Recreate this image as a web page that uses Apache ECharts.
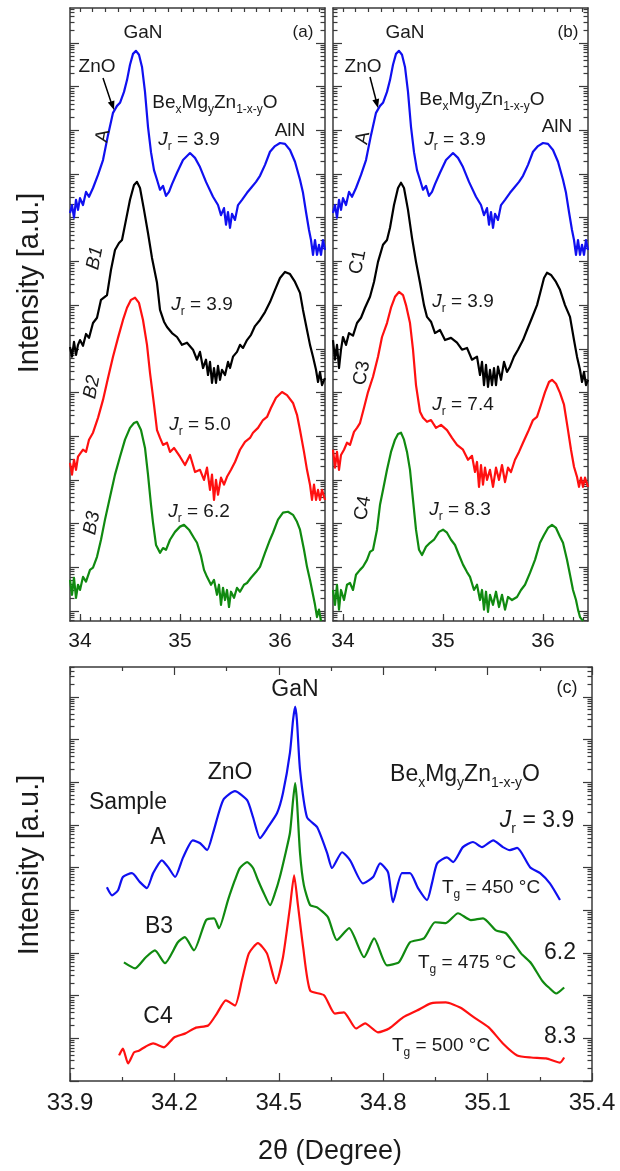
<!DOCTYPE html>
<html><head><meta charset="utf-8">
<script src="https://cdn.jsdelivr.net/npm/echarts@6/dist/echarts.min.js"></script>
<style>html,body{margin:0;padding:0;background:#fff}#c{width:620px;height:1171px}</style>
</head><body><div id="c"></div>
<script>
// ---------- DATA: x = 2theta (deg), y = log10 intensity (decades, offset traces) ----------
// Panels (a) and (b): sample A (same scan in both)
const sampleA = [[33.90,9.11],[33.92,9.29],[33.94,9.00],[33.96,9.41],[33.98,9.18],[34.00,9.45],[34.03,9.29],[34.06,9.59],[34.09,9.48],[34.13,9.68],[34.18,9.98],[34.23,10.32],[34.28,10.89],[34.33,11.40],[34.37,11.56],[34.40,11.63],[34.44,11.88],[34.47,12.15],[34.50,12.50],[34.53,12.75],[34.56,12.82],[34.59,12.73],[34.62,12.45],[34.65,11.88],[34.68,11.08],[34.71,10.50],[34.74,10.09],[34.77,9.87],[34.80,9.64],[34.83,9.73],[34.86,9.50],[34.89,9.59],[34.92,9.77],[34.97,10.03],[35.03,10.32],[35.10,10.48],[35.15,10.37],[35.20,10.16],[35.26,9.82],[35.33,9.48],[35.38,9.29],[35.41,9.06],[35.44,9.22],[35.46,8.84],[35.48,9.13],[35.50,8.77],[35.52,9.09],[35.55,8.95],[35.58,9.29],[35.62,9.41],[35.67,9.57],[35.72,9.71],[35.76,9.82],[35.80,9.96],[35.85,10.21],[35.90,10.51],[35.95,10.64],[36.00,10.71],[36.05,10.69],[36.10,10.55],[36.15,10.28],[36.20,9.87],[36.23,9.57],[36.26,9.13],[36.29,8.72],[36.31,8.49],[36.33,8.15],[36.35,8.49],[36.37,8.15],[36.39,8.38],[36.41,8.15],[36.43,8.49],[36.45,8.26]];
const sampleB1 = [[33.90,6.04],[33.92,5.82],[33.94,6.16],[33.96,5.86],[33.98,6.09],[34.00,6.20],[34.03,6.07],[34.06,6.34],[34.09,6.25],[34.13,6.59],[34.17,6.71],[34.21,7.12],[34.27,7.23],[34.31,7.81],[34.35,8.26],[34.39,8.42],[34.42,8.49],[34.46,8.95],[34.50,9.41],[34.54,9.75],[34.57,9.82],[34.60,9.68],[34.64,9.18],[34.68,8.65],[34.72,8.08],[34.77,7.51],[34.80,6.89],[34.84,6.62],[34.87,6.50],[34.92,6.36],[34.97,6.27],[35.02,6.09],[35.07,6.14],[35.13,5.98],[35.17,5.75],[35.20,5.93],[35.23,5.56],[35.26,5.75],[35.28,5.40],[35.30,5.70],[35.32,5.22],[35.34,5.56],[35.36,5.22],[35.38,5.61],[35.40,5.29],[35.42,5.52],[35.45,5.40],[35.48,5.70],[35.50,5.56],[35.53,5.82],[35.57,5.93],[35.60,6.09],[35.63,6.02],[35.67,6.20],[35.71,6.32],[35.75,6.52],[35.80,6.66],[35.85,6.84],[35.90,7.07],[35.95,7.35],[36.00,7.62],[36.05,7.76],[36.10,7.71],[36.15,7.53],[36.20,7.28],[36.23,6.89],[36.27,6.43],[36.30,6.09],[36.33,5.82],[36.36,5.52],[36.38,5.24],[36.40,5.47],[36.42,5.17],[36.45,5.33]];
const sampleB2 = [[33.90,3.39],[33.92,3.12],[33.94,3.46],[33.96,3.23],[33.98,3.53],[34.00,3.53],[34.03,3.69],[34.06,3.64],[34.09,3.92],[34.13,4.08],[34.18,4.42],[34.23,4.83],[34.28,5.33],[34.33,5.82],[34.38,6.25],[34.43,6.66],[34.47,6.94],[34.51,7.12],[34.55,7.17],[34.59,7.05],[34.63,6.66],[34.67,6.09],[34.70,5.45],[34.74,4.72],[34.77,4.14],[34.80,3.96],[34.83,3.80],[34.87,3.85],[34.90,3.64],[34.94,3.73],[35.00,3.53],[35.05,3.34],[35.10,3.57],[35.15,3.18],[35.20,3.23],[35.24,3.00],[35.27,3.28],[35.30,2.77],[35.32,3.12],[35.34,2.54],[35.36,3.00],[35.38,2.66],[35.41,3.05],[35.44,2.89],[35.47,3.07],[35.51,3.23],[35.55,3.41],[35.60,3.69],[35.65,3.87],[35.70,3.96],[35.73,4.08],[35.78,4.19],[35.83,4.37],[35.87,4.44],[35.91,4.65],[35.96,4.88],[36.02,5.01],[36.07,4.94],[36.13,4.76],[36.17,4.49],[36.20,4.14],[36.24,3.64],[36.27,3.23],[36.30,2.89],[36.32,2.54],[36.34,2.89],[36.36,2.54],[36.38,2.77],[36.40,2.54],[36.42,2.77],[36.45,2.54]];
const sampleB3 = [[33.90,0.71],[33.92,0.37],[33.94,0.76],[33.96,0.30],[33.98,0.60],[34.00,0.48],[34.03,0.78],[34.06,0.67],[34.10,0.94],[34.13,0.99],[34.17,1.24],[34.21,1.63],[34.25,2.09],[34.30,2.61],[34.35,3.12],[34.40,3.53],[34.45,3.92],[34.50,4.19],[34.54,4.30],[34.57,4.33],[34.61,4.14],[34.65,3.73],[34.68,3.12],[34.71,2.43],[34.73,2.02],[34.76,1.51],[34.80,1.33],[34.83,1.44],[34.86,1.40],[34.90,1.63],[34.95,1.81],[35.00,1.93],[35.04,1.97],[35.09,1.86],[35.14,1.67],[35.17,1.56],[35.21,1.26],[35.24,0.94],[35.27,0.78],[35.31,0.60],[35.34,0.71],[35.37,0.37],[35.39,0.60],[35.41,0.14],[35.43,0.53],[35.45,0.25],[35.47,0.48],[35.49,0.09],[35.51,0.44],[35.54,0.30],[35.57,0.53],[35.60,0.44],[35.64,0.60],[35.67,0.64],[35.71,0.76],[35.76,0.89],[35.80,1.01],[35.85,1.33],[35.90,1.63],[35.93,1.79],[35.98,2.09],[36.03,2.25],[36.08,2.27],[36.13,2.20],[36.17,2.04],[36.20,1.86],[36.24,1.40],[36.27,1.01],[36.30,0.71],[36.33,0.37],[36.35,0.14],[36.37,-0.14],[36.39,0.03],[36.41,-0.23]];
const sampleC1 = [[33.90,6.20],[33.92,5.75],[33.94,6.09],[33.96,5.56],[33.98,5.98],[34.00,6.27],[34.03,6.09],[34.06,6.36],[34.10,6.30],[34.14,6.59],[34.18,6.71],[34.22,6.94],[34.27,7.19],[34.31,7.53],[34.35,7.99],[34.40,8.38],[34.44,8.49],[34.47,8.77],[34.51,9.29],[34.55,9.68],[34.58,9.80],[34.61,9.68],[34.65,9.18],[34.69,8.54],[34.73,7.99],[34.77,7.51],[34.81,7.00],[34.84,6.73],[34.88,6.62],[34.92,6.36],[34.97,6.43],[35.02,6.20],[35.08,6.25],[35.14,6.14],[35.19,5.98],[35.24,6.02],[35.29,5.75],[35.34,5.82],[35.37,5.40],[35.39,5.70],[35.41,5.17],[35.43,5.63],[35.45,5.13],[35.47,5.52],[35.49,5.17],[35.51,5.56],[35.53,5.17],[35.55,5.59],[35.58,5.29],[35.61,5.70],[35.64,5.47],[35.67,5.59],[35.71,5.82],[35.75,5.98],[35.80,6.20],[35.84,6.43],[35.89,6.71],[35.94,7.00],[35.98,7.35],[36.01,7.62],[36.04,7.74],[36.08,7.69],[36.13,7.53],[36.17,7.35],[36.22,7.00],[36.27,6.73],[36.31,6.20],[36.34,5.82],[36.37,5.52],[36.39,5.24],[36.41,5.47],[36.43,5.17],[36.45,5.29]];
const sampleC3 = [[33.90,3.69],[33.92,3.28],[33.94,3.64],[33.96,3.23],[33.98,3.57],[34.01,3.69],[34.04,3.85],[34.07,3.80],[34.11,4.10],[34.14,4.19],[34.17,4.30],[34.21,4.65],[34.25,5.01],[34.30,5.36],[34.35,5.82],[34.39,6.27],[34.44,6.59],[34.48,6.94],[34.52,7.19],[34.56,7.30],[34.60,7.23],[34.63,7.00],[34.67,6.59],[34.70,5.98],[34.73,5.17],[34.77,4.56],[34.80,4.42],[34.84,4.33],[34.88,4.37],[34.93,4.19],[34.98,4.26],[35.04,4.14],[35.09,3.96],[35.14,3.80],[35.20,3.69],[35.25,3.46],[35.29,3.55],[35.32,3.18],[35.34,3.41],[35.36,2.84],[35.38,3.34],[35.40,2.89],[35.42,3.28],[35.44,3.00],[35.47,3.23],[35.50,2.84],[35.53,3.28],[35.56,3.00],[35.59,3.34],[35.62,2.95],[35.65,3.28],[35.68,3.18],[35.72,3.46],[35.76,3.64],[35.80,3.85],[35.85,4.10],[35.90,4.37],[35.94,4.44],[35.98,4.72],[36.02,5.01],[36.06,5.24],[36.09,5.29],[36.13,5.20],[36.17,4.99],[36.21,4.72],[36.25,4.14],[36.28,3.69],[36.31,3.30],[36.34,3.07],[36.36,2.84],[36.38,3.05],[36.40,2.84],[36.42,3.05],[36.45,2.84]];
const sampleC4 = [[33.90,0.48],[33.92,0.14],[33.94,0.60],[33.96,0.03],[33.98,0.48],[34.01,0.25],[34.04,0.60],[34.07,0.64],[34.10,0.48],[34.13,0.83],[34.17,0.94],[34.20,1.01],[34.24,1.17],[34.27,1.35],[34.30,1.40],[34.34,1.86],[34.37,2.43],[34.40,2.77],[34.44,3.23],[34.48,3.64],[34.52,3.92],[34.55,4.05],[34.58,4.08],[34.61,3.92],[34.64,3.64],[34.67,3.23],[34.70,2.54],[34.73,1.86],[34.76,1.40],[34.79,1.28],[34.83,1.47],[34.87,1.56],[34.91,1.63],[34.96,1.81],[35.00,1.86],[35.04,1.79],[35.08,1.63],[35.12,1.51],[35.16,1.28],[35.20,1.06],[35.24,0.89],[35.27,0.78],[35.31,0.48],[35.34,0.60],[35.37,0.25],[35.39,0.48],[35.41,0.03],[35.43,0.44],[35.45,-0.02],[35.47,0.37],[35.50,0.14],[35.53,0.44],[35.56,0.09],[35.59,0.37],[35.62,0.03],[35.65,0.32],[35.69,0.25],[35.74,0.32],[35.78,0.48],[35.82,0.60],[35.87,0.87],[35.92,1.17],[35.97,1.56],[36.01,1.74],[36.05,1.90],[36.09,1.97],[36.13,1.90],[36.17,1.70],[36.20,1.56],[36.24,1.17],[36.27,0.83],[36.30,0.48],[36.33,0.25],[36.35,0.03],[36.37,-0.14],[36.40,-0.23]];
// Panel (c): high-resolution scans
const cA = [[34.006,4.54],[34.021,4.35],[34.038,4.47],[34.052,4.78],[34.078,4.87],[34.101,4.66],[34.121,4.52],[34.139,4.87],[34.164,5.17],[34.182,5.01],[34.202,4.78],[34.225,5.24],[34.253,5.64],[34.274,5.57],[34.294,5.41],[34.311,5.81],[34.340,6.58],[34.374,6.79],[34.409,6.58],[34.426,6.18],[34.446,5.69],[34.469,5.95],[34.495,6.28],[34.512,6.75],[34.532,7.69],[34.541,8.46],[34.547,8.77],[34.552,8.46],[34.561,7.29],[34.581,6.18],[34.610,5.95],[34.639,5.34],[34.653,4.99],[34.682,5.36],[34.705,5.17],[34.742,4.63],[34.771,4.78],[34.791,5.10],[34.814,4.89],[34.828,4.19],[34.854,4.87],[34.877,4.87],[34.900,4.52],[34.926,4.24],[34.940,4.63],[34.955,5.10],[34.983,5.24],[35.001,5.13],[35.029,5.48],[35.058,5.60],[35.084,5.48],[35.116,5.64],[35.144,5.48],[35.164,5.41],[35.185,5.46],[35.222,5.01],[35.251,4.87],[35.279,4.63],[35.308,4.24]];
const cB3 = [[34.055,2.78],[34.087,2.64],[34.118,2.90],[34.144,3.06],[34.173,2.76],[34.210,3.25],[34.230,3.37],[34.256,3.06],[34.291,3.77],[34.314,3.81],[34.328,3.58],[34.354,4.24],[34.374,4.71],[34.388,4.99],[34.409,5.13],[34.426,4.99],[34.440,4.71],[34.457,4.40],[34.475,4.12],[34.489,4.40],[34.503,4.78],[34.518,5.29],[34.532,5.81],[34.541,6.58],[34.547,6.98],[34.552,6.58],[34.561,5.34],[34.572,4.59],[34.590,4.12],[34.610,4.07],[34.641,3.84],[34.667,3.30],[34.702,3.58],[34.745,2.90],[34.774,3.34],[34.811,2.71],[34.845,2.78],[34.877,3.25],[34.917,3.34],[34.949,3.72],[34.980,3.70],[35.015,3.93],[35.052,3.77],[35.087,3.81],[35.124,3.53],[35.153,3.46],[35.196,2.99],[35.225,2.76],[35.256,2.36],[35.276,2.19],[35.297,2.05],[35.320,2.19]];
const cC4 = [[34.041,0.60],[34.052,0.76],[34.067,0.41],[34.084,0.67],[34.098,0.71],[34.118,0.81],[34.139,0.88],[34.170,0.79],[34.199,1.02],[34.230,1.11],[34.262,1.25],[34.297,1.30],[34.322,1.58],[34.348,1.89],[34.374,1.77],[34.394,2.36],[34.414,2.99],[34.440,3.23],[34.466,2.99],[34.492,2.29],[34.512,2.90],[34.532,4.07],[34.544,4.82],[34.555,4.12],[34.570,3.13],[34.590,2.12],[34.630,2.01],[34.661,1.58],[34.687,1.61],[34.722,1.23],[34.748,1.35],[34.785,1.14],[34.817,1.23],[34.857,1.49],[34.897,1.65],[34.937,1.82],[34.980,1.84],[35.021,1.72],[35.061,1.49],[35.104,1.25],[35.144,0.88],[35.185,0.60],[35.225,0.55],[35.268,0.53],[35.308,0.43],[35.320,0.55]];

// ---------- AXES ----------
const abXRange = [33.9, 36.45];
const abXLabels = [34, 35, 36];
const abXMinor = []; for (let v = 34.0; v <= 36.41; v += 0.1) abXMinor.push(+v.toFixed(2));
const abXTop = []; for (let k = 0; k < 20; k++) abXTop.push(+(34.0 + 0.126 * k).toFixed(3));
const abYRange = [-0.23, 13.8];
const cXRange = [33.9, 35.4];
const cYRange = [0, 9.7];

const FONT = "Arial, 'Liberation Sans', Helvetica, sans-serif";
const TXT = '#1a1a1a';
const LINE = '#3a3a3a';

function decades(lo, hi) { const r = []; for (let k = Math.ceil(lo); k <= Math.floor(hi); k++) r.push(k); return r; }
function logMinor(lo, hi) {
  const r = [];
  for (let k = Math.floor(lo) - 1; k <= Math.ceil(hi); k++)
    for (let m = 2; m <= 9; m++) { const v = k + Math.log10(m); if (v > lo && v < hi) r.push(+v.toFixed(4)); }
  return r;
}
const lineSty = { color: LINE, width: 1.5 };
const tickSty = { color: LINE, width: 1.2 };

function ax(gridIndex, position, range, o) {
  return Object.assign({
    type: 'value', gridIndex, position, min: range[0], max: range[1],
    splitLine: { show: false }, axisLine: { show: false, onZero: false },
    axisLabel: { show: false }, axisTick: { show: false }, minorTick: { show: false }
  }, o);
}
function frameLine() { return { show: true, onZero: false, lineStyle: lineSty }; }

const xAxes = [];
const yAxes = [];
function abAxes(g) {
  xAxes.push(ax(g, 'bottom', abXRange, {
    axisLine: frameLine(),
    axisTick: { show: true, inside: true, length: 7, customValues: abXLabels, lineStyle: tickSty },
    axisLabel: { show: true, customValues: abXLabels, margin: 10, fontSize: 21, color: TXT, fontFamily: FONT }
  }));
  xAxes.push(ax(g, 'bottom', abXRange, { axisTick: { show: true, inside: true, length: 4, customValues: abXMinor, lineStyle: tickSty } }));
  xAxes.push(ax(g, 'top', abXRange, { axisLine: frameLine(), axisTick: { show: true, inside: true, length: 4, customValues: abXTop, lineStyle: tickSty } }));
  ['left', 'right'].forEach(p => {
    yAxes.push(ax(g, p, abYRange, { axisLine: frameLine(), axisTick: { show: true, inside: true, length: 9, customValues: decades(abYRange[0], abYRange[1]), lineStyle: tickSty } }));
    yAxes.push(ax(g, p, abYRange, { axisTick: { show: true, inside: true, length: 4.5, customValues: logMinor(abYRange[0], abYRange[1]), lineStyle: tickSty } }));
  });
}
abAxes(0); abAxes(1);
// panel c
xAxes.push(ax(2, 'bottom', cXRange, {
  interval: 0.3, axisLine: frameLine(),
  axisTick: { show: true, inside: true, length: 8, lineStyle: tickSty },
  minorTick: { show: true, splitNumber: 2, length: 4, lineStyle: tickSty },
  axisLabel: { show: true, margin: 10, fontSize: 24, color: TXT, fontFamily: FONT, formatter: v => v.toFixed(1), showMinLabel: true, showMaxLabel: true }
}));
xAxes.push(ax(2, 'top', cXRange, {
  interval: 0.3, axisLine: frameLine(),
  axisTick: { show: true, inside: true, length: 8, lineStyle: tickSty },
  minorTick: { show: true, splitNumber: 2, length: 4, lineStyle: tickSty }
}));
['left', 'right'].forEach(p => {
  yAxes.push(ax(2, p, cYRange, { axisLine: frameLine(), axisTick: { show: true, inside: true, length: 9, customValues: decades(cYRange[0], cYRange[1]), lineStyle: tickSty } }));
  yAxes.push(ax(2, p, cYRange, { axisTick: { show: true, inside: true, length: 4.5, customValues: logMinor(cYRange[0], cYRange[1]), lineStyle: tickSty } }));
});

// ---------- SERIES ----------
const BLUE = '#1010f0', BLACK = '#000000', RED = '#ff1010', GREEN = '#108a10';
function ln(data, color, xi, yi, smooth) {
  return { type: 'line', data, xAxisIndex: xi, yAxisIndex: yi, showSymbol: false, symbol: 'none',
    smooth: smooth || false,
    lineStyle: { color, width: 2.2, join: 'round' }, itemStyle: { color }, silent: true, z: 3 };
}
const series = [
  ln(sampleA, BLUE, 0, 0), ln(sampleB1, BLACK, 0, 0), ln(sampleB2, RED, 0, 0), ln(sampleB3, GREEN, 0, 0),
  ln(sampleA, BLUE, 3, 4), ln(sampleC1, BLACK, 3, 4), ln(sampleC3, RED, 3, 4), ln(sampleC4, GREEN, 3, 4),
  ln(cA, BLUE, 6, 8, 0.2), ln(cB3, GREEN, 6, 8, 0.2), ln(cC4, RED, 6, 8, 0.2)
];

// ---------- TEXT ANNOTATIONS ----------
function makeRich(fs) {
  const sf = Math.round(fs * 0.63);
  return {
    n: { fontSize: fs, fontFamily: FONT, fill: TXT, lineHeight: fs + 3 },
    i: { fontSize: fs, fontFamily: FONT, fill: TXT, lineHeight: fs + 3, fontStyle: 'italic' },
    s: { fontSize: sf, fontFamily: FONT, fill: TXT, lineHeight: sf, padding: [Math.round(fs * 0.74), 0, 0, 0] }
  };
}
function txt(x, y, text, o) {
  o = o || {};
  const fs = o.fs || 19;
  return { type: 'text', x, y, rotation: o.rot || 0, z: 20, silent: true,
    style: { text, fontSize: fs, fontFamily: FONT, fill: TXT, align: 'center', verticalAlign: 'middle',
      fontStyle: o.it ? 'italic' : 'normal', rich: makeRich(fs) } };
}
const compound = '{n|Be}{s|x}{n|Mg}{s|y}{n|Zn}{s|1-x-y}{n|O}';
function jr(v) { return '{i|J}{s|r}{n| = ' + v + '}'; }
function tg(v) { return '{n|T}{s|g}{n| = ' + v + ' °C}'; }
const ROT = 1.38;
const C = 23;
const graphics = [
  // panel a
  txt(143, 33, 'GaN'), txt(303, 32, '(a)', { fs: 17 }), txt(97, 67, 'ZnO'),
  txt(103, 136, 'A', { rot: ROT }), txt(215, 103, compound), txt(189, 140, jr('3.9')), txt(290, 131, 'AlN'),
  txt(95, 258, 'B1', { rot: ROT, it: true }), txt(202, 305, jr('3.9')),
  txt(92, 387, 'B2', { rot: ROT, it: true }), txt(200, 425, jr('5.0')),
  txt(92, 523, 'B3', { rot: ROT, it: true }), txt(199, 512, jr('6.2')),
  // panel b
  txt(405, 33, 'GaN'), txt(568, 32, '(b)', { fs: 17 }), txt(363, 67, 'ZnO'),
  txt(363, 138, 'A', { rot: ROT }), txt(482, 100, compound), txt(455, 140, jr('3.9')), txt(557, 127, 'AlN'),
  txt(358, 262, 'C1', { rot: ROT }), txt(463, 302, jr('3.9')),
  txt(362, 373, 'C3', { rot: ROT }), txt(463, 405, jr('7.4')),
  txt(363, 508, 'C4', { rot: ROT }), txt(460, 510, jr('8.3')),
  // panel c
  txt(295, 690, 'GaN', { fs: C }), txt(230, 773, 'ZnO', { fs: C }), txt(128, 803, 'Sample', { fs: C }), txt(158, 838, 'A', { fs: C }),
  txt(159, 927, 'B3', { fs: C }), txt(158, 1017, 'C4', { fs: C }), txt(465, 775, compound, { fs: C }), txt(537, 821, jr('3.9'), { fs: C }),
  txt(491, 888, tg('450'), { fs: 19 }), txt(467, 963, tg('475'), { fs: 19 }), txt(441, 1046, tg('500'), { fs: 19 }),
  txt(560, 953, '6.2', { fs: C }), txt(560, 1037, '8.3', { fs: C }), txt(567, 688, '(c)', { fs: 18 }),
  // axis titles
  txt(30, 283, 'Intensity [a.u.]', { fs: 29, rot: Math.PI / 2 }),
  txt(30, 865, 'Intensity [a.u.]', { fs: 29, rot: Math.PI / 2 }),
  txt(330, 1152, '2\u03b8 (Degree)', { fs: 27 }),
  // arrows (ZnO)
  { type: 'line', z: 20, silent: true, shape: { x1: 103, y1: 78, x2: 111, y2: 102 }, style: { stroke: '#000', lineWidth: 1.5 } },
  { type: 'polygon', z: 20, silent: true, shape: { points: [[114, 110], [107.8, 102.6], [114.4, 100.4]] }, style: { fill: '#000' } },
  { type: 'line', z: 20, silent: true, shape: { x1: 370, y1: 77, x2: 376, y2: 100 }, style: { stroke: '#000', lineWidth: 1.5 } },
  { type: 'polygon', z: 20, silent: true, shape: { points: [[378, 108], [372.4, 100.2], [379.1, 98.4]] }, style: { fill: '#000' } }
];

const chart = echarts.init(document.getElementById('c'), null, { renderer: 'canvas' });
chart.setOption({
  animation: false,
  backgroundColor: '#ffffff',
  grid: [
    { left: 70, top: 8, width: 255, height: 613 },
    { left: 333, top: 8, width: 255, height: 613 },
    { left: 70, top: 667, width: 522, height: 414 }
  ],
  xAxis: xAxes,
  yAxis: yAxes,
  series,
  graphic: graphics
});
</script></body></html>
